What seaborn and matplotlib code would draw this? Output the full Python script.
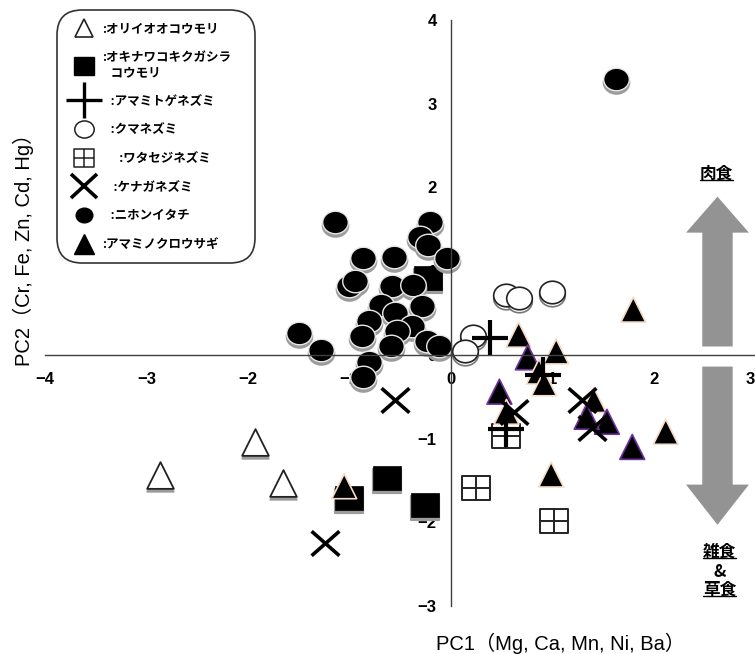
import seaborn as sns
import matplotlib.pyplot as plt
from matplotlib.markers import MarkerStyle
from matplotlib.path import Path
from matplotlib.transforms import Affine2D, offset_copy, ScaledTranslation
from matplotlib.lines import Line2D
from matplotlib.patches import FancyArrow

# PC scores (PC1, PC2)
orii_x = [-2.87, -1.93, -1.65]                 # オリイオオコウモリ
orii_y = [-1.43, -1.04, -1.53]
kiku_x = [-0.63, -0.25, -1.00, -0.22]          # オキナワコキクガシラコウモリ
kiku_y = [-1.47, -1.79, -1.71, 0.92]
toge_x = [0.39, 0.91, 0.55]                    # アマミトゲネズミ
toge_y = [0.20, -0.24, -0.88]
kuma_x = [0.55, 0.67, 1.00, 0.22, 0.14]        # クマネズミ
kuma_y = [0.72, 0.68, 0.75, 0.23, 0.05]
jine_x = [0.55, 0.25, 1.02]                    # ワタセジネズミ
jine_y = [-0.97, -1.59, -1.99]
kenaga_x = [-0.55, -1.24, 0.62, 1.29, 1.39]    # ケナガネズミ
kenaga_y = [-0.54, -2.25, -0.68, -0.54, -0.87]
itachi_x = [-1.14, -0.86, -0.56, -0.20, -0.30, -0.22, -0.04, -1.00, -0.94,
            -0.58, -0.37, -0.69, -0.55, -0.28, -0.81, -0.38, -0.53, -0.87,
            -1.50, -1.28, -0.59, -0.23, -0.12, -0.81, -0.86, 1.63]      # ニホンイタチ
itachi_y = [1.59, 1.16, 1.17, 1.59, 1.41, 1.31, 1.16, 0.82, 0.88,
            0.82, 0.84, 0.60, 0.50, 0.58, 0.40, 0.34, 0.28, 0.22,
            0.26, 0.06, 0.10, 0.16, 0.10, -0.08, -0.26, 3.29]
usagi_x = [-1.05, 0.67, 1.04, 0.76, 0.87, 0.92, 0.48, 0.55, 1.41, 1.54,
           1.34, 1.79, 2.12, 1.80, 0.99]                                # アマミノクロウサギ
usagi_y = [-1.57, 0.24, 0.04, -0.03, -0.20, -0.34, -0.44, -0.68, -0.54, -0.80,
           -0.74, -1.10, -0.92, 0.54, -1.43]
usagi_purple = [3, 6, 9, 10, 11]   # points drawn with a purple outline in the original

legend_labels = [":オリイオオコウモリ", ":オキナワコキクガシラ\n   コウモリ",
                 "   :アマミトゲネズミ", "   :クマネズミ", "      :ワタセジネズミ",
                 "    :ケナガネズミ", "   :ニホンイタチ", ":アマミノクロウサギ"]

sns.set_theme(style="white")
plt.rcParams["font.family"] = ["Liberation Sans", "Noto Sans CJK JP", "DejaVu Sans"]
plt.rcParams["text.color"] = "black"

fig = plt.figure(figsize=(7.55, 6.54), dpi=100)
ax = fig.add_axes([45 / 755, 1 - 606 / 654, 710 / 755, 586 / 654])

# markers (the original is slightly squashed vertically)
squash = Affine2D().scale(1, 0.88)
ell = MarkerStyle("o", transform=squash)
sq = MarkerStyle("s", transform=squash)
boxplus = MarkerStyle(Path(
    [(-1, -1), (1, -1), (1, 1), (-1, 1), (-1, -1), (0, -1), (0, 1), (-1, 0), (1, 0)],
    [Path.MOVETO, Path.LINETO, Path.LINETO, Path.LINETO, Path.CLOSEPOLY,
     Path.MOVETO, Path.LINETO, Path.MOVETO, Path.LINETO]), transform=squash)
xmark = MarkerStyle("x", transform=squash)

shadow = offset_copy(ax.transData, fig=fig, x=0, y=-3, units="dots")
shade = "#9c9c9c"

# open triangles
sns.scatterplot(x=orii_x, y=orii_y, ax=ax, marker="^", s=370, color=shade,
                edgecolor=shade, linewidth=1.2, transform=shadow, legend=False)
sns.scatterplot(x=orii_x, y=orii_y, ax=ax, marker="^", s=370, color="white",
                edgecolor="#222222", linewidth=1.3, legend=False)
# black squares
sns.scatterplot(x=kiku_x, y=kiku_y, ax=ax, marker=sq, s=390, color=shade,
                edgecolor=shade, transform=shadow, legend=False)
sns.scatterplot(x=kiku_x, y=kiku_y, ax=ax, marker=sq, s=390, color="black",
                edgecolor="black", linewidth=0.5, legend=False)
# filled circles
sns.scatterplot(x=itachi_x, y=itachi_y, ax=ax, marker=ell, s=340, color=shade,
                edgecolor=shade, transform=shadow, legend=False)
sns.scatterplot(x=itachi_x, y=itachi_y, ax=ax, marker=ell, s=340, color="black",
                edgecolor="#e8e8e8", linewidth=1.0, legend=False)
# open circles
sns.scatterplot(x=kuma_x, y=kuma_y, ax=ax, marker=ell, s=340, color="white",
                edgecolor="#777777", linewidth=1.2, transform=shadow, legend=False)
sns.scatterplot(x=kuma_x, y=kuma_y, ax=ax, marker=ell, s=340, color="white",
                edgecolor="#222222", linewidth=1.2, legend=False)
# boxed squares
sns.scatterplot(x=jine_x, y=jine_y, ax=ax, marker=boxplus, s=380, color="white",
                edgecolor="#222222", linewidth=1.4, legend=False)
# black triangles
edge = ["#7030a0" if i in usagi_purple else "#f6dcc8" for i in range(len(usagi_x))]
sns.scatterplot(x=usagi_x, y=usagi_y, ax=ax, marker="^", s=320, color="black",
                edgecolor=edge, linewidth=1.2, legend=False)
# crosses
sns.scatterplot(x=kenaga_x, y=kenaga_y, ax=ax, marker=xmark, s=400, color="black",
                linewidth=2.6, legend=False)
sns.scatterplot(x=toge_x, y=toge_y, ax=ax, marker="+", s=640, color="black",
                linewidth=3.0, legend=False)

# axes through the origin
ax.set_xlim(-4, 3)
ax.set_ylim(-3, 4)
for s in ["top", "right"]:
    ax.spines[s].set_visible(False)
for s in ["left", "bottom"]:
    ax.spines[s].set_position(("data", 0))
    ax.spines[s].set_color("#404040")
    ax.spines[s].set_linewidth(1.0)
ax.set_xticks(range(-4, 4))
ax.set_yticks(range(-3, 5))
ax.tick_params(direction="in", length=5, width=1, color="#404040", labelsize=12,
               labelcolor="black")
ax.tick_params(axis="x", pad=12)
ax.tick_params(axis="y", pad=10)
for lab in ax.get_xticklabels() + ax.get_yticklabels():
    lab.set_fontweight("bold")
# last x label sits on the figure edge: nudge it in a little
last = ax.get_xticklabels()[-1]
last.set_transform(last.get_transform() + ScaledTranslation(-5 / 100, 0, fig.dpi_scale_trans))

# diet arrows
for y0, dy, hl in [(0.10, 1.79, 0.43), (-0.14, -1.89, 0.48)]:
    ax.add_patch(FancyArrow(2.63, y0, 0, dy, width=0.30, head_width=0.62, head_length=hl,
                            length_includes_head=True, color="#939393", lw=0))
diet = dict(ha="center", va="center", fontsize=12, fontweight="bold",
            family=["Noto Sans CJK JP"])
t_meat = ax.text(2.62, 2.16, "肉食", **diet)
t_omni = ax.text(2.65, -2.35, "雑食", **diet)
ax.text(2.65, -2.59, "&", **diet)
t_herb = ax.text(2.65, -2.81, "草食", **diet)

# legend
handles = [
    Line2D([], [], ls="none", marker="^", ms=13, mfc="white", mec="#222222", mew=1.2),
    Line2D([], [], ls="none", marker=sq, ms=15, mfc="black", mec="black"),
    Line2D([], [], ls="none", marker="+", ms=26, color="black", mew=2.4),
    Line2D([], [], ls="none", marker=ell, ms=14, mfc="white", mec="#222222", mew=1.1),
    Line2D([], [], ls="none", marker=boxplus, ms=14, mfc="white", mec="#222222", mew=1.1),
    Line2D([], [], ls="none", marker=xmark, ms=19, color="black", mew=2.6),
    Line2D([], [], ls="none", marker=ell, ms=12, mfc="black", mec="black"),
    Line2D([], [], ls="none", marker="^", ms=14, mfc="black", mec="black"),
]
leg = ax.legend(handles, legend_labels, loc="upper left",
                bbox_to_anchor=(0.0169, 1.017, 0.279, 0), mode="expand",
                borderaxespad=0, borderpad=1.0, handlelength=2.4, handletextpad=0.2,
                labelspacing=1.25, frameon=True, fancybox=True,
                prop=dict(family=["Noto Sans CJK JP"], size=9, weight="bold"))
frame = leg.get_frame()
frame.set_boxstyle("round", pad=0, rounding_size=2.0)
frame.set_edgecolor("#333333")
frame.set_linewidth(1.2)
frame.set_alpha(1)

# axis titles
fig.text(23 / 755, 1 - 245 / 654, "PC2（Cr, Fe, Zn, Cd, Hg）", rotation=90,
         ha="center", va="center", fontsize=14.5, color="black")
fig.text(560 / 755, 1 - 643 / 654, "PC1（Mg, Ca, Mn, Ni, Ba）",
         ha="center", va="center", fontsize=14.5, color="black")

# underline the diet words
fig.canvas.draw()
W, H = fig.bbox.width, fig.bbox.height
for t in [t_meat, t_omni, t_herb]:
    bb = t.get_window_extent()
    yy = (bb.y0 + 3) / H
    fig.add_artist(Line2D([bb.x0 / W, bb.x1 / W], [yy, yy], transform=fig.transFigure,
                          color="black", lw=1))

fig.savefig("out.png", dpi=100)
